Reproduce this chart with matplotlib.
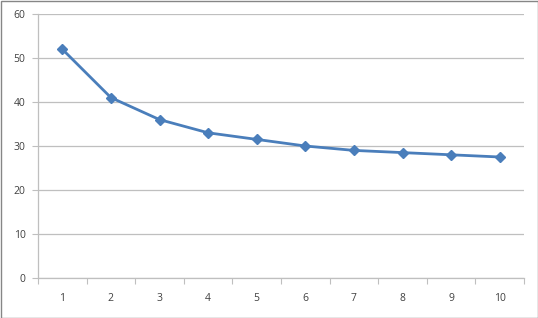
import matplotlib
matplotlib.use("Agg")
import matplotlib.pyplot as plt
from matplotlib.patches import Rectangle

categories = [1, 2, 3, 4, 5, 6, 7, 8, 9, 10]
values = [52, 41, 36, 33, 31.5, 30, 29, 28.5, 28, 27.5]
y_ticks = [0, 10, 20, 30, 40, 50, 60]

plt.rcParams['font.family'] = ['Open Sans', 'DejaVu Sans']

fig = plt.figure(figsize=(5.38, 3.18), dpi=100)
ax = fig.add_axes([38/538, 40/318, 486/538, 264/318])

xs = list(range(1, len(categories) + 1))
ax.plot(xs, values, color='#4A7EBB', lw=2.0, marker='D', markersize=5,
        markerfacecolor='#4A7EBB', markeredgecolor='#4A7EBB', zorder=3)

ax.set_xlim(0.5, len(categories) + 0.5)
ax.set_ylim(0, 60)
ax.set_yticks(y_ticks)
ax.set_yticklabels([str(v) for v in y_ticks])
ax.yaxis.grid(True, color='#BFBFBF', lw=0.9)
ax.set_axisbelow(True)

# category axis: ticks between categories, labels centered
ax.set_xticks([x + 0.5 for x in [0] + xs])
ax.set_xticklabels([])
ax.set_xticks(xs, minor=True)
ax.set_xticklabels([str(c) for c in categories], minor=True)
ax.tick_params(axis='x', which='minor', length=0, pad=11, labelsize=7.5, colors='#404040')
ax.tick_params(axis='x', which='major', length=4, direction='out', color='#BFBFBF')
ax.tick_params(axis='y', length=4, direction='out', color='#BFBFBF', labelsize=7.5,
               labelcolor='#404040', pad=5)

for s in ['top', 'right']:
    ax.spines[s].set_visible(False)
for s in ['left', 'bottom']:
    ax.spines[s].set_color('#BFBFBF')
    ax.spines[s].set_linewidth(0.9)

fig.patches.append(Rectangle((0.5/538, 0.5/318), 537/538, 317/318, transform=fig.transFigure,
                             fill=False, edgecolor='#868686', lw=1.0))

fig.savefig('out.png', dpi=100)
